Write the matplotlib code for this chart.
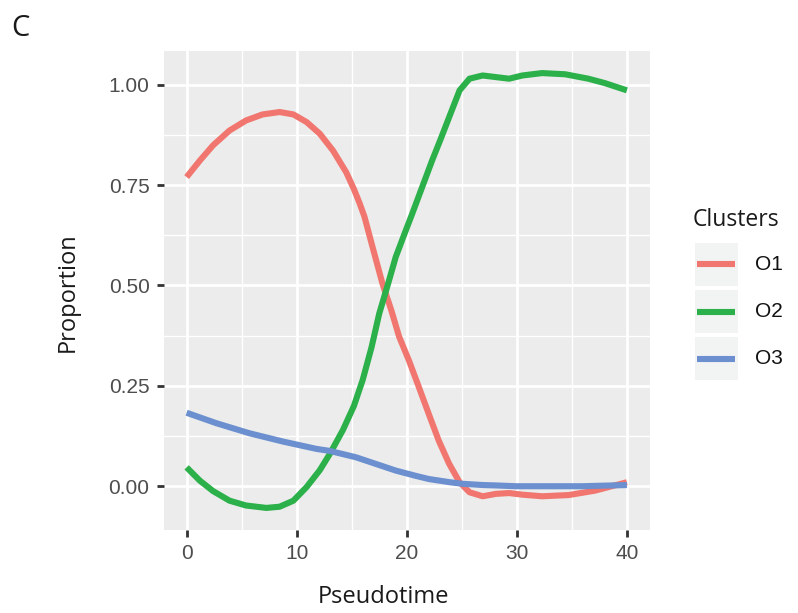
import matplotlib
matplotlib.use("Agg")
import matplotlib.pyplot as plt
from matplotlib.patches import Rectangle
from matplotlib.lines import Line2D
from matplotlib.ticker import MultipleLocator

clusters = ["O1", "O2", "O3"]
colors = ["#F1766F", "#2BB04A", "#6B8FCF"]

o1_x = [0, 1.2, 2.4, 3.9, 5.4, 6.9, 8.45, 9.7, 10.9, 12.1, 13.3, 14.5, 15.2, 15.7, 16.15, 16.9, 17.8, 18.6, 19.3, 20.2, 21.1, 22.0, 22.9, 23.85, 24.8, 25.7, 26.9, 28.1, 29.3, 30.5, 32.3, 34.7, 37.1, 40]
o1_y = [0.770, 0.811, 0.849, 0.886, 0.911, 0.926, 0.932, 0.926, 0.907, 0.878, 0.836, 0.782, 0.740, 0.706, 0.672, 0.595, 0.504, 0.438, 0.373, 0.313, 0.247, 0.180, 0.114, 0.056, 0.010, -0.015, -0.025, -0.019, -0.017, -0.021, -0.025, -0.022, -0.011, 0.010]

o2_x = [0, 1.2, 2.4, 3.9, 5.4, 7.25, 8.45, 9.7, 10.9, 12.1, 13.0, 14.2, 15.2, 16.0, 16.8, 17.5, 18.3, 19.0, 19.8, 20.5, 21.4, 22.3, 23.1, 23.85, 24.8, 25.7, 26.9, 28.1, 29.3, 30.5, 32.3, 34.4, 36.5, 38.0, 40]
o2_y = [0.047, 0.014, -0.012, -0.036, -0.048, -0.054, -0.051, -0.036, -0.002, 0.040, 0.080, 0.140, 0.200, 0.265, 0.346, 0.430, 0.504, 0.571, 0.629, 0.679, 0.745, 0.811, 0.866, 0.919, 0.986, 1.015, 1.023, 1.019, 1.015, 1.023, 1.029, 1.026, 1.015, 1.004, 0.986]

o3_x = [0, 2.7, 5.7, 8.8, 11.8, 13.0, 15.4, 17.8, 19.0, 20.8, 22.0, 23.9, 25.1, 26.9, 28.1, 29.9, 35.9, 40]
o3_y = [0.183, 0.157, 0.132, 0.111, 0.093, 0.088, 0.072, 0.050, 0.039, 0.026, 0.018, 0.010, 0.006, 0.003, 0.002, 0.0, 0.0, 0.003]

x_ticks = [0, 10, 20, 30, 40]
y_ticks = [0.0, 0.25, 0.5, 0.75, 1.0]
y_labels = ["0.00", "0.25", "0.50", "0.75", "1.00"]

W, H = 798, 613
fig = plt.figure(figsize=(W / 100, H / 100), dpi=100)
ax = fig.add_axes([163.5 / W, 1 - 530 / H, (650 - 163.5) / W, (530 - 51) / H])
ax.set_facecolor("#EBECEB")
for s in ax.spines.values():
    s.set_visible(False)

for xs, ys, c in zip([o1_x, o2_x, o3_x], [o1_y, o2_y, o3_y], colors):
    ax.plot(xs, ys, color=c, lw=4.4, solid_capstyle="butt", solid_joinstyle="round", zorder=3)

ax.set_xlim(-2.1, 42.1)
ax.set_ylim(-0.109, 1.084)
ax.set_xticks(x_ticks)
ax.set_xticklabels([str(v) for v in x_ticks])
ax.set_yticks(y_ticks)
ax.set_yticklabels(y_labels)
ax.xaxis.set_minor_locator(MultipleLocator(5))
ax.yaxis.set_minor_locator(MultipleLocator(0.125))
ax.grid(which="major", color="white", lw=2.0, zorder=1)
ax.grid(which="minor", color="white", lw=1.0, zorder=1)
ax.set_axisbelow(True)
ax.tick_params(which="major", length=5, width=2, color="#333333", labelsize=15,
               labelcolor="#4D4D4D", pad=5)
ax.tick_params(which="minor", length=0)
for lab in ax.get_xticklabels() + ax.get_yticklabels():
    lab.set_family("Liberation Sans")

tfont = "Open Sans"
fig.text(384 / W, 1 - 597 / H, "Pseudotime", ha="center", va="center",
         fontsize=17, family=tfont, color="#1A1A1A")
fig.text(68 / W, 1 - 292 / H, "Proportion", ha="center", va="center", rotation=90,
         fontsize=17, family=tfont, color="#1A1A1A")
fig.text(11 / W, 1 - 28 / H, "C", ha="left", va="center",
         fontsize=21, family=tfont, color="#1A1A1A")

# legend
fig.text(693 / W, 1 - 220 / H, "Clusters", ha="left", va="center",
         fontsize=16.5, family=tfont, color="#1A1A1A")
key_tops = [243, 290, 337]
for name, c, top in zip(clusters, colors, key_tops):
    fig.add_artist(Rectangle((695 / W, 1 - (top + 43) / H), 43 / W, 43 / H,
                             transform=fig.transFigure, facecolor="#F2F3F3", edgecolor="none"))
    yc = 1 - (top + 21.5) / H
    fig.add_artist(Line2D([697 / W, 735 / W], [yc, yc], transform=fig.transFigure,
                          color=c, lw=4.4, solid_capstyle="butt"))
    fig.text(755 / W, yc, name, ha="left", va="center", fontsize=15,
             family="Liberation Sans", color="#111111")

fig.savefig("out.png", dpi=100)
